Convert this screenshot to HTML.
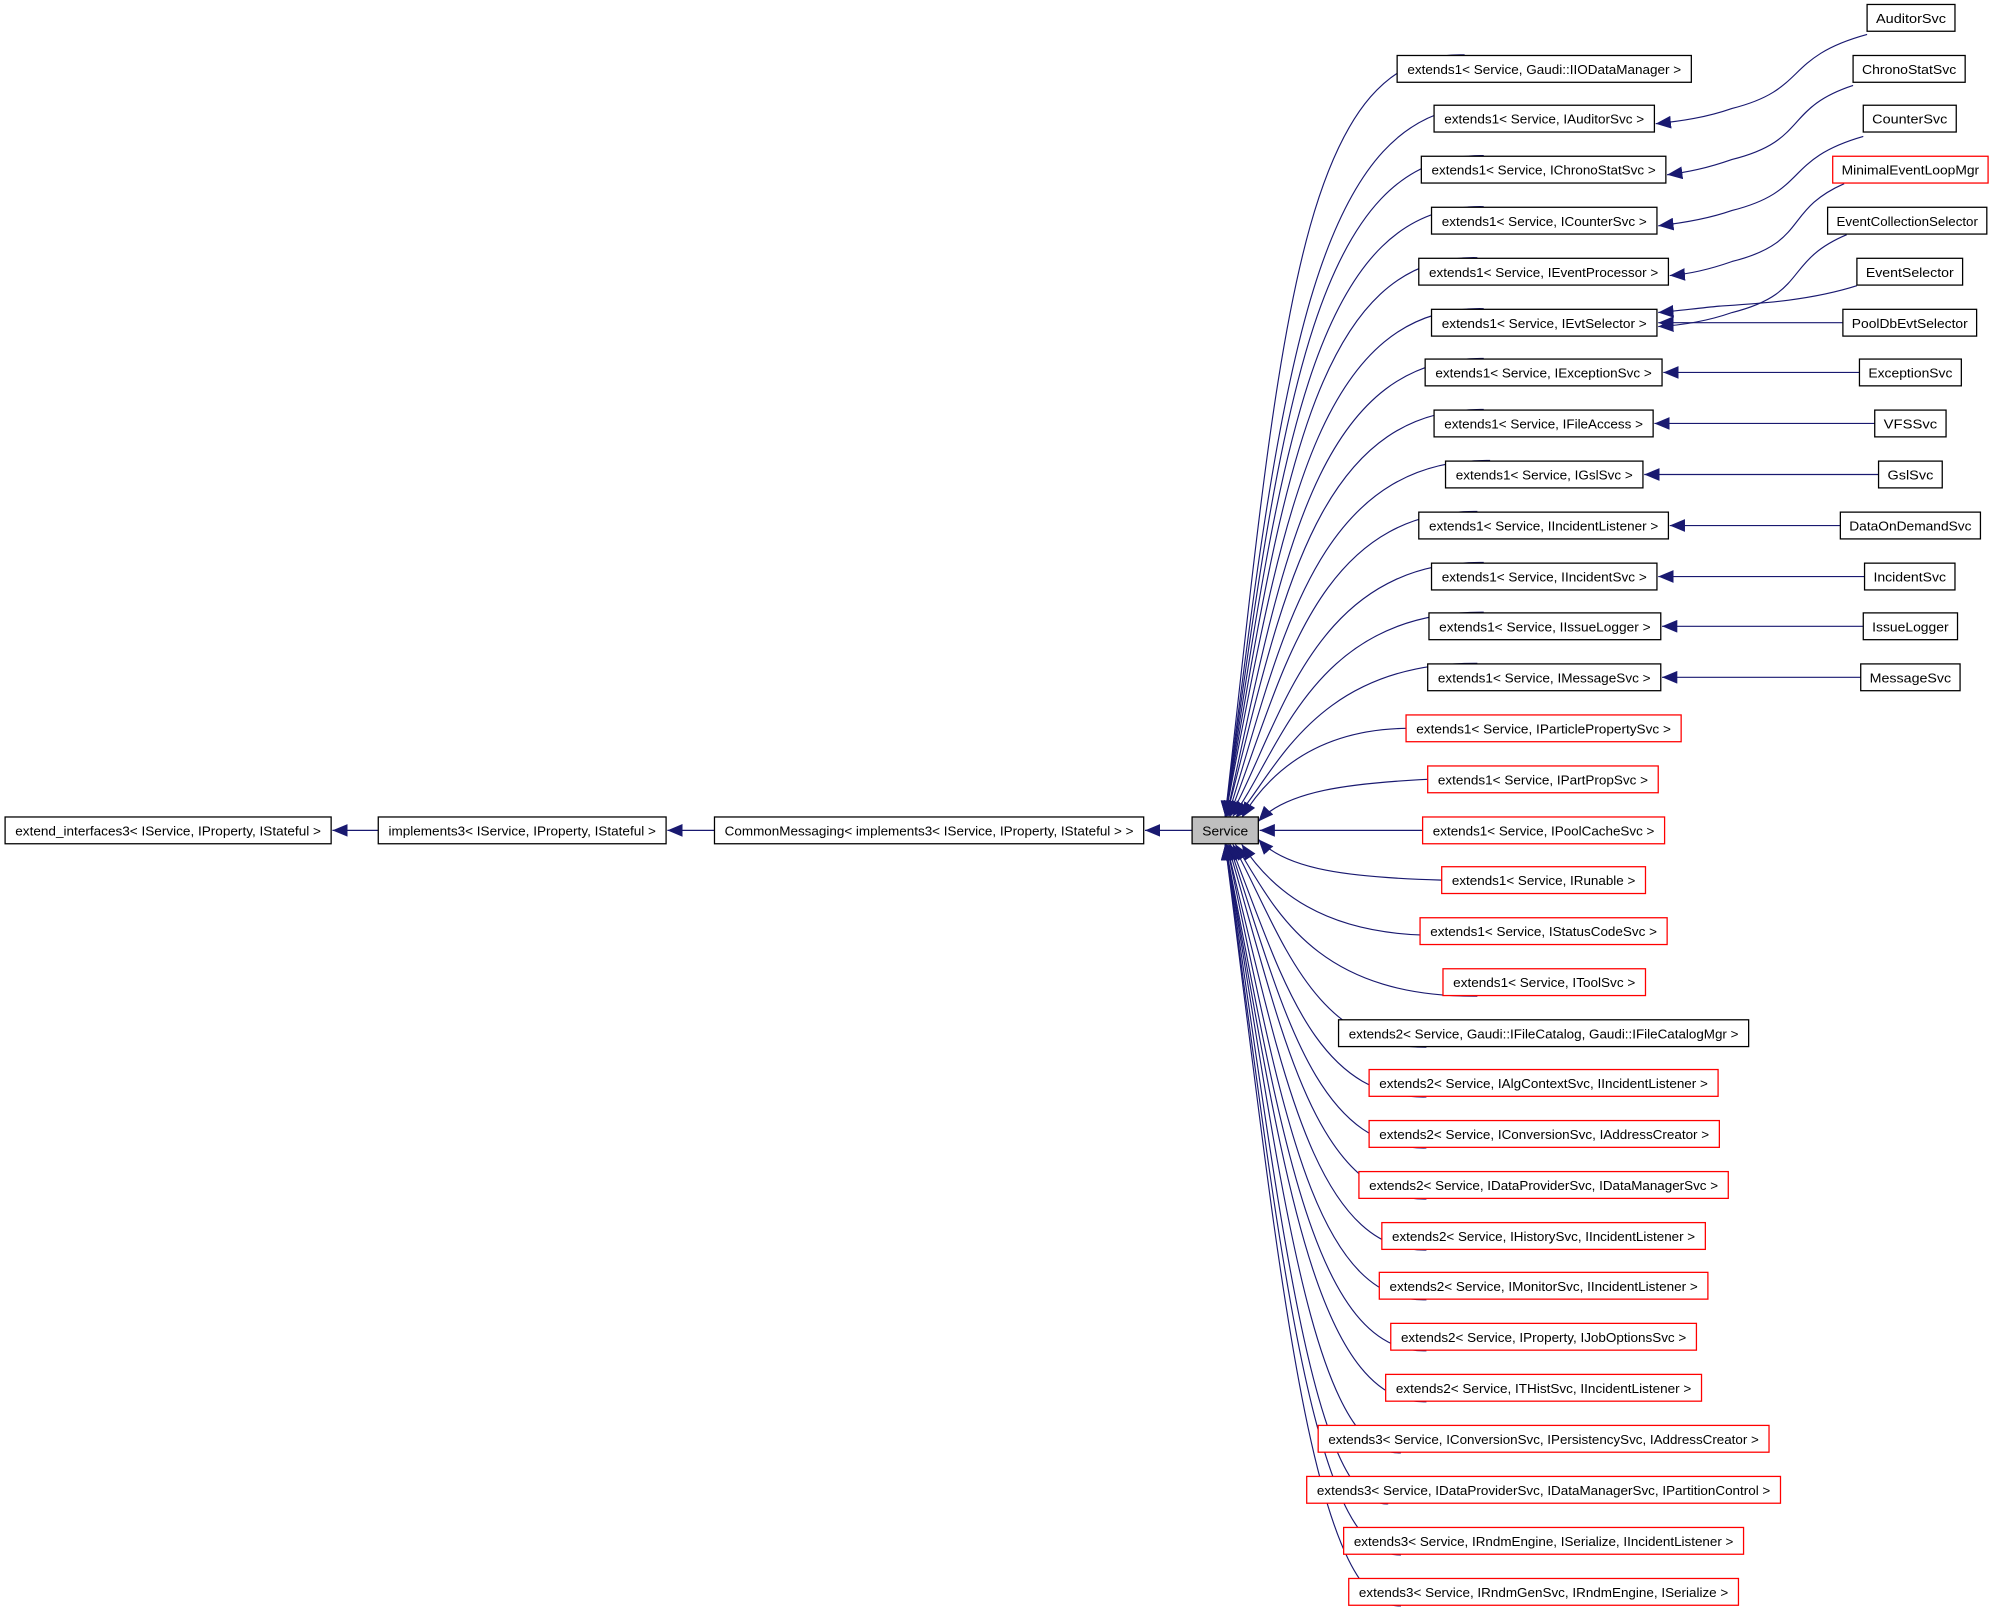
<!DOCTYPE html>
<html><head><meta charset="utf-8"><style>
html,body{margin:0;padding:0;background:#fff;}
svg{display:block;}
text{font-family:"Liberation Sans",sans-serif;font-size:10px;fill:#000;}
</style></head><body>
<svg width="1997" height="1611" viewBox="0 0 1568 1263" preserveAspectRatio="none" xmlns="http://www.w3.org/2000/svg">
<defs>
<marker id="a" markerUnits="userSpaceOnUse" markerWidth="14" markerHeight="10" refX="12" refY="5" orient="auto">
<path d="M0,0 L12,5 L0,10 z" fill="#191970"/>
</marker>
</defs>
<g fill="none" stroke="#191970" stroke-width="0.9" marker-end="url(#a)">
<!-- chain -->
<line x1="297" y1="651" x2="261" y2="651"/>
<line x1="561" y1="651" x2="524" y2="651"/>
<line x1="936" y1="651" x2="899" y2="651"/>
<!-- upper middle -> Service -->
<path d="M1150,43 C1020,39 1005,260 962,640"/>
<path d="M1170,83 C1030,79 1005,300 962,640"/>
<path d="M1165,122 C1030,119 1005,330 962,640"/>
<path d="M1165,162 C1030,159 1005,360 962,640"/>
<path d="M1160,202 C1030,199 1005,390 962,640"/>
<path d="M1165,242 C1030,239 1005,420 962,640"/>
<path d="M1165,281 C1030,279 1005,450 963,640"/>
<path d="M1165,321 C1030,319 1005,480 963,640"/>
<path d="M1170,361 C1030,359 1005,510 964,640"/>
<path d="M1160,401 C1030,399 1005,540 965,640"/>
<path d="M1165,441 C1030,439 1005,570 966,640"/>
<path d="M1165,480 C1030,479 1005,590 968,640"/>
<path d="M1160,520 C1030,519 1000,610 970,641"/>
<path d="M1104,571 C1040,572 1000,600 975,641"/>
<path d="M1121,611 C1060,614 1010,620 988,644"/>
<line x1="1117" y1="651" x2="989" y2="651"/>
<path d="M1132,690 C1060,688 1010,682 988,658"/>
<path d="M1115,733 C1040,730 1000,700 975,662"/>
<path d="M1160,781 C1030,782 1000,710 970,662"/>
<path d="M1120,821 C1030,822 1005,730 968,662"/>
<path d="M1120,860 C1030,862 1005,760 966,662"/>
<path d="M1120,900 C1030,902 1005,780 965,662"/>
<path d="M1120,940 C1030,942 1005,800 964,662"/>
<path d="M1120,980 C1030,982 1005,830 963,662"/>
<path d="M1120,1019 C1030,1022 1005,860 963,662"/>
<path d="M1120,1059 C1030,1062 1005,880 962,662"/>
<path d="M1120,1099 C1030,1102 1005,900 962,662"/>
<path d="M1100,1139 C1030,1142 1005,920 962,662"/>
<path d="M1090,1179 C1030,1182 1005,950 962,662"/>
<path d="M1100,1219 C1030,1222 1005,980 962,662"/>
<path d="M1100,1259 C1030,1262 1005,1000 962,662"/>
<!-- right -> middle -->
<path d="M1466,27 C1400,45 1420,70 1360,85 C1340,92 1320,95 1300,97"/>
<path d="M1455,67 C1400,85 1420,110 1360,125 C1340,132 1325,135 1309,137"/>
<path d="M1463,107 C1400,125 1420,150 1360,165 C1340,172 1320,175 1302,177"/>
<path d="M1448,144 C1400,165 1420,190 1360,205 C1340,212 1325,215 1311,216"/>
<path d="M1450,184 C1400,205 1420,230 1360,245 C1340,252 1320,255 1302,256"/>
<path d="M1458,224 C1420,236 1380,238 1350,240 C1330,242 1315,244 1302,245"/>
<line x1="1447" y1="253" x2="1302" y2="253"/>
<line x1="1460" y1="292" x2="1306" y2="292"/>
<line x1="1472" y1="332" x2="1299" y2="332"/>
<line x1="1475" y1="372" x2="1291" y2="372"/>
<line x1="1445" y1="412" x2="1311" y2="412"/>
<line x1="1464" y1="452" x2="1302" y2="452"/>
<line x1="1463" y1="491" x2="1305" y2="491"/>
<line x1="1461" y1="531" x2="1305" y2="531"/>
</g>
<g stroke-width="1" fill="#fff">
<!-- chain -->
<rect x="4" y="640.5" width="256" height="21" stroke="#000"/>
<rect x="297" y="640.5" width="226" height="21" stroke="#000"/>
<rect x="561" y="640.5" width="337" height="21" stroke="#000"/>
<rect x="936" y="640.5" width="52" height="21" stroke="#000" fill="#bfbfbf"/>
<!-- right column -->
<rect x="1466" y="3.5" width="69" height="21" stroke="#000"/>
<rect x="1455" y="43.5" width="88" height="21" stroke="#000"/>
<rect x="1463" y="82.5" width="73" height="21" stroke="#000"/>
<rect x="1439" y="122.5" width="122" height="21" stroke="#f00"/>
<rect x="1435" y="162.5" width="125" height="21" stroke="#000"/>
<rect x="1458" y="202.5" width="83" height="21" stroke="#000"/>
<rect x="1447" y="242.5" width="105" height="21" stroke="#000"/>
<rect x="1460" y="281.5" width="80" height="21" stroke="#000"/>
<rect x="1472" y="321.5" width="56" height="21" stroke="#000"/>
<rect x="1475" y="361.5" width="50" height="21" stroke="#000"/>
<rect x="1445" y="401.5" width="110" height="21" stroke="#000"/>
<rect x="1464" y="441.5" width="71" height="21" stroke="#000"/>
<rect x="1463" y="480.5" width="74" height="21" stroke="#000"/>
<rect x="1461" y="520.5" width="78" height="21" stroke="#000"/>
<!-- middle column -->
<rect x="1097" y="43.5" width="231" height="21" stroke="#000"/>
<rect x="1126" y="82.5" width="173" height="21" stroke="#000"/>
<rect x="1116" y="122.5" width="192" height="21" stroke="#000"/>
<rect x="1124" y="162.5" width="177" height="21" stroke="#000"/>
<rect x="1114" y="202.5" width="196" height="21" stroke="#000"/>
<rect x="1124" y="242.5" width="177" height="21" stroke="#000"/>
<rect x="1119" y="281.5" width="186" height="21" stroke="#000"/>
<rect x="1126" y="321.5" width="172" height="21" stroke="#000"/>
<rect x="1135" y="361.5" width="155" height="21" stroke="#000"/>
<rect x="1114" y="401.5" width="196" height="21" stroke="#000"/>
<rect x="1124" y="441.5" width="177" height="21" stroke="#000"/>
<rect x="1122" y="480.5" width="182" height="21" stroke="#000"/>
<rect x="1121" y="520.5" width="183" height="21" stroke="#000"/>
<rect x="1104" y="560.5" width="216" height="21" stroke="#f00"/>
<rect x="1121" y="600.5" width="181" height="21" stroke="#f00"/>
<rect x="1117" y="640.5" width="190" height="21" stroke="#f00"/>
<rect x="1132" y="679.5" width="160" height="21" stroke="#f00"/>
<rect x="1115" y="719.5" width="194" height="21" stroke="#f00"/>
<rect x="1133" y="759.5" width="159" height="21" stroke="#f00"/>
<rect x="1051" y="799.5" width="322" height="21" stroke="#000"/>
<rect x="1075" y="838.5" width="274" height="21" stroke="#f00"/>
<rect x="1075" y="878.5" width="275" height="21" stroke="#f00"/>
<rect x="1067" y="918.5" width="290" height="21" stroke="#f00"/>
<rect x="1085" y="958.5" width="254" height="21" stroke="#f00"/>
<rect x="1083" y="997.5" width="258" height="21" stroke="#f00"/>
<rect x="1092" y="1037.5" width="240" height="21" stroke="#f00"/>
<rect x="1088" y="1077.5" width="248" height="21" stroke="#f00"/>
<rect x="1035" y="1117.5" width="354" height="21" stroke="#f00"/>
<rect x="1026" y="1157.5" width="372" height="21" stroke="#f00"/>
<rect x="1055" y="1197.5" width="314" height="21" stroke="#f00"/>
<rect x="1059" y="1237.5" width="306" height="21" stroke="#f00"/>
</g>
<g text-anchor="middle" lengthAdjust="spacingAndGlyphs">
<text x="132" y="655" textLength="240" lengthAdjust="spacingAndGlyphs">extend_interfaces3&lt; IService, IProperty, IStateful &gt;</text>
<text x="410" y="655" textLength="210" lengthAdjust="spacingAndGlyphs">implements3&lt; IService, IProperty, IStateful &gt;</text>
<text x="729.5" y="655" textLength="321" lengthAdjust="spacingAndGlyphs">CommonMessaging&lt; implements3&lt; IService, IProperty, IStateful &gt; &gt;</text>
<text x="962" y="655" textLength="36" lengthAdjust="spacingAndGlyphs">Service</text>

<text x="1500.5" y="18" textLength="55" lengthAdjust="spacingAndGlyphs">AuditorSvc</text>
<text x="1499" y="58" textLength="74" lengthAdjust="spacingAndGlyphs">ChronoStatSvc</text>
<text x="1499.5" y="97" textLength="59" lengthAdjust="spacingAndGlyphs">CounterSvc</text>
<text x="1500" y="137" textLength="108" lengthAdjust="spacingAndGlyphs">MinimalEventLoopMgr</text>
<text x="1497.5" y="177" textLength="111" lengthAdjust="spacingAndGlyphs">EventCollectionSelector</text>
<text x="1499.5" y="217" textLength="69" lengthAdjust="spacingAndGlyphs">EventSelector</text>
<text x="1499.5" y="257" textLength="91" lengthAdjust="spacingAndGlyphs">PoolDbEvtSelector</text>
<text x="1500" y="296" textLength="66" lengthAdjust="spacingAndGlyphs">ExceptionSvc</text>
<text x="1500" y="336" textLength="42" lengthAdjust="spacingAndGlyphs">VFSSvc</text>
<text x="1500" y="376" textLength="36" lengthAdjust="spacingAndGlyphs">GslSvc</text>
<text x="1500" y="416" textLength="96" lengthAdjust="spacingAndGlyphs">DataOnDemandSvc</text>
<text x="1499.5" y="456" textLength="57" lengthAdjust="spacingAndGlyphs">IncidentSvc</text>
<text x="1500" y="495" textLength="60" lengthAdjust="spacingAndGlyphs">IssueLogger</text>
<text x="1500" y="535" textLength="64" lengthAdjust="spacingAndGlyphs">MessageSvc</text>

<text x="1212.5" y="58" textLength="215" lengthAdjust="spacingAndGlyphs">extends1&lt; Service, Gaudi::IIODataManager &gt;</text>
<text x="1212.5" y="97" textLength="157" lengthAdjust="spacingAndGlyphs">extends1&lt; Service, IAuditorSvc &gt;</text>
<text x="1212" y="137" textLength="176" lengthAdjust="spacingAndGlyphs">extends1&lt; Service, IChronoStatSvc &gt;</text>
<text x="1212.5" y="177" textLength="161" lengthAdjust="spacingAndGlyphs">extends1&lt; Service, ICounterSvc &gt;</text>
<text x="1212" y="217" textLength="180" lengthAdjust="spacingAndGlyphs">extends1&lt; Service, IEventProcessor &gt;</text>
<text x="1212.5" y="257" textLength="161" lengthAdjust="spacingAndGlyphs">extends1&lt; Service, IEvtSelector &gt;</text>
<text x="1212" y="296" textLength="170" lengthAdjust="spacingAndGlyphs">extends1&lt; Service, IExceptionSvc &gt;</text>
<text x="1212" y="336" textLength="156" lengthAdjust="spacingAndGlyphs">extends1&lt; Service, IFileAccess &gt;</text>
<text x="1212.5" y="376" textLength="139" lengthAdjust="spacingAndGlyphs">extends1&lt; Service, IGslSvc &gt;</text>
<text x="1212" y="416" textLength="180" lengthAdjust="spacingAndGlyphs">extends1&lt; Service, IIncidentListener &gt;</text>
<text x="1212.5" y="456" textLength="161" lengthAdjust="spacingAndGlyphs">extends1&lt; Service, IIncidentSvc &gt;</text>
<text x="1213" y="495" textLength="166" lengthAdjust="spacingAndGlyphs">extends1&lt; Service, IIssueLogger &gt;</text>
<text x="1212.5" y="535" textLength="167" lengthAdjust="spacingAndGlyphs">extends1&lt; Service, IMessageSvc &gt;</text>
<text x="1212" y="575" textLength="200" lengthAdjust="spacingAndGlyphs">extends1&lt; Service, IParticlePropertySvc &gt;</text>
<text x="1211.5" y="615" textLength="165" lengthAdjust="spacingAndGlyphs">extends1&lt; Service, IPartPropSvc &gt;</text>
<text x="1212" y="655" textLength="174" lengthAdjust="spacingAndGlyphs">extends1&lt; Service, IPoolCacheSvc &gt;</text>
<text x="1212" y="694" textLength="144" lengthAdjust="spacingAndGlyphs">extends1&lt; Service, IRunable &gt;</text>
<text x="1212" y="734" textLength="178" lengthAdjust="spacingAndGlyphs">extends1&lt; Service, IStatusCodeSvc &gt;</text>
<text x="1212.5" y="774" textLength="143" lengthAdjust="spacingAndGlyphs">extends1&lt; Service, IToolSvc &gt;</text>
<text x="1212" y="814" textLength="306" lengthAdjust="spacingAndGlyphs">extends2&lt; Service, Gaudi::IFileCatalog, Gaudi::IFileCatalogMgr &gt;</text>
<text x="1212" y="853" textLength="258" lengthAdjust="spacingAndGlyphs">extends2&lt; Service, IAlgContextSvc, IIncidentListener &gt;</text>
<text x="1212.5" y="893" textLength="259" lengthAdjust="spacingAndGlyphs">extends2&lt; Service, IConversionSvc, IAddressCreator &gt;</text>
<text x="1212" y="933" textLength="274" lengthAdjust="spacingAndGlyphs">extends2&lt; Service, IDataProviderSvc, IDataManagerSvc &gt;</text>
<text x="1212" y="973" textLength="238" lengthAdjust="spacingAndGlyphs">extends2&lt; Service, IHistorySvc, IIncidentListener &gt;</text>
<text x="1212" y="1012" textLength="242" lengthAdjust="spacingAndGlyphs">extends2&lt; Service, IMonitorSvc, IIncidentListener &gt;</text>
<text x="1212" y="1052" textLength="224" lengthAdjust="spacingAndGlyphs">extends2&lt; Service, IProperty, IJobOptionsSvc &gt;</text>
<text x="1212" y="1092" textLength="232" lengthAdjust="spacingAndGlyphs">extends2&lt; Service, ITHistSvc, IIncidentListener &gt;</text>
<text x="1212" y="1132" textLength="338" lengthAdjust="spacingAndGlyphs">extends3&lt; Service, IConversionSvc, IPersistencySvc, IAddressCreator &gt;</text>
<text x="1212" y="1172" textLength="356" lengthAdjust="spacingAndGlyphs">extends3&lt; Service, IDataProviderSvc, IDataManagerSvc, IPartitionControl &gt;</text>
<text x="1212" y="1212" textLength="298" lengthAdjust="spacingAndGlyphs">extends3&lt; Service, IRndmEngine, ISerialize, IIncidentListener &gt;</text>
<text x="1212" y="1252" textLength="290" lengthAdjust="spacingAndGlyphs">extends3&lt; Service, IRndmGenSvc, IRndmEngine, ISerialize &gt;</text>
</g>
</svg>
</body></html>
